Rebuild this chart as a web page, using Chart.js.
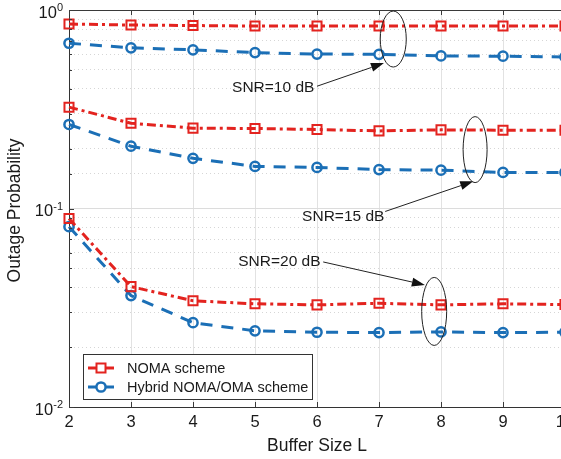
<!DOCTYPE html>
<html>
<head>
<meta charset="utf-8">
<script src="https://cdn.jsdelivr.net/npm/chart.js@4.4.0/dist/chart.umd.min.js"></script>
<style>
  html, body { margin: 0; padding: 0; overflow: hidden; background: #fff; }
  canvas { display: block; }
</style>
</head>
<body>
<canvas id="chart" width="600" height="459"></canvas>
<script>
// Buffer size L on the x axis
const bufferSizes = [2, 3, 4, 5, 6, 7, 8, 9, 10];

// Outage probability, NOMA scheme
const noma10 = [0.85, 0.84, 0.835, 0.83, 0.83, 0.83, 0.83, 0.83, 0.83];
const noma15 = [0.324, 0.269, 0.254, 0.253, 0.250, 0.246, 0.249, 0.248, 0.248];
const noma20 = [0.089, 0.0404, 0.0343, 0.0331, 0.0327, 0.0333, 0.0327, 0.0331, 0.0328];

// Outage probability, hybrid NOMA/OMA scheme
const hybrid10 = [0.68, 0.645, 0.63, 0.61, 0.60, 0.598, 0.587, 0.585, 0.58];
const hybrid15 = [0.265, 0.206, 0.179, 0.163, 0.161, 0.157, 0.156, 0.152, 0.152];
const hybrid20 = [0.081, 0.0364, 0.0266, 0.0242, 0.0238, 0.0237, 0.0239, 0.0237, 0.0238];

const yTicks = [0.01, 0.1, 1];
const yExponents = ['-2', '-1', '0'];
const legendLabels = ['NOMA scheme', 'Hybrid NOMA/OMA scheme'];
const snrLabels = ['SNR=10 dB', 'SNR=15 dB', 'SNR=20 dB'];

const RED = '#e3231f';
const BLUE = '#1b6fb6';
const FONT = '"Liberation Sans", Arial, Helvetica, sans-serif';

const nomaStyle = {
  borderColor: RED, borderWidth: 3, borderDash: [9, 4, 3, 4],
  pointStyle: 'rect', pointRadius: 6.4, pointBorderWidth: 2,
  pointBorderColor: RED, pointBackgroundColor: 'rgba(255,255,255,0)'
};
const hybridStyle = {
  borderColor: BLUE, borderWidth: 3, borderDash: [12, 9],
  pointStyle: 'circle', pointRadius: 4.6, pointBorderWidth: 2.5,
  pointBorderColor: BLUE, pointBackgroundColor: 'rgba(255,255,255,0)'
};

function series(values) {
  return bufferSizes.map((x, i) => ({ x: x, y: values[i] }));
}

function isDecade(v) {
  const l = Math.log10(v);
  return Math.abs(l - Math.round(l)) < 1e-6;
}

// annotations: ellipses, arrows and text, in data coordinates
const snrNotes = [
  { text: snrLabels[0], tx: 4.63, ty: 0.404, ax0: 6.0, ay0: 0.413, ax1: 7.08, ay1: 0.54,
    ex: 7.23, ey: 0.714, rx: 13, ry: 28 },
  { text: snrLabels[1], tx: 5.76, ty: 0.0911, ax0: 7.1, ay0: 0.0966, ax1: 8.52, ay1: 0.137,
    ex: 8.55, ey: 0.198, rx: 12, ry: 33 },
  { text: snrLabels[2], tx: 4.73, ty: 0.0538, ax0: 6.1, ay0: 0.0538, ax1: 7.74, ay1: 0.0412,
    ex: 7.89, ey: 0.0303, rx: 12.5, ry: 34 }
];

const decorPlugin = {
  id: 'decor',
  afterDatasetsDraw(chart) {
    const ctx = chart.ctx;
    const xs = chart.scales.x, ys = chart.scales.y;
    const area = chart.chartArea;
    ctx.save();

    // box top line and inward ticks
    ctx.strokeStyle = '#3a3a3a';
    ctx.lineWidth = 1;
    ctx.beginPath();
    ctx.moveTo(area.left, area.top + 0.5);
    ctx.lineTo(area.right, area.top + 0.5);
    ctx.stroke();
    ctx.beginPath();
    bufferSizes.forEach(v => {
      const px = Math.round(xs.getPixelForValue(v)) + 0.5;
      ctx.moveTo(px, area.bottom); ctx.lineTo(px, area.bottom - 5);
      ctx.moveTo(px, area.top); ctx.lineTo(px, area.top + 5);
    });
    ys.ticks.forEach(t => {
      const py = Math.round(ys.getPixelForValue(t.value)) + 0.5;
      const len = isDecade(t.value) ? 5 : 3;
      ctx.moveTo(area.left, py); ctx.lineTo(area.left + len, py);
    });
    ctx.stroke();

    // y tick labels 10^n
    ctx.fillStyle = '#1a1a1a';
    ctx.textAlign = 'right';
    ctx.textBaseline = 'middle';
    yTicks.forEach((v, i) => {
      const py = ys.getPixelForValue(v);
      ctx.font = '11px ' + FONT;
      const supW = ctx.measureText(yExponents[i]).width;
      ctx.fillText(yExponents[i], 63, py - 2);
      ctx.font = '16.5px ' + FONT;
      ctx.fillText('10', 63 - supW, py + 3);
    });

    // axis titles
    ctx.font = '17.5px ' + FONT;
    ctx.textAlign = 'center';
    ctx.fillText('Buffer Size L', (area.left + area.right) / 2, 446);
    ctx.save();
    ctx.translate(15, (area.top + area.bottom) / 2 + 2);
    ctx.rotate(-Math.PI / 2);
    ctx.fillText('Outage Probability', 0, 0);
    ctx.restore();

    // SNR annotations
    snrNotes.forEach(n => {
      const ex = xs.getPixelForValue(n.ex), ey = ys.getPixelForValue(n.ey);
      ctx.strokeStyle = '#222';
      ctx.lineWidth = 1;
      ctx.beginPath();
      ctx.ellipse(ex, ey, n.rx, n.ry, 0, 0, Math.PI * 2);
      ctx.stroke();

      const x0 = xs.getPixelForValue(n.ax0), y0 = ys.getPixelForValue(n.ay0);
      const x1 = xs.getPixelForValue(n.ax1), y1 = ys.getPixelForValue(n.ay1);
      const ang = Math.atan2(y1 - y0, x1 - x0);
      const hl = 13, hw = 4.5;
      ctx.beginPath();
      ctx.moveTo(x0, y0);
      ctx.lineTo(x1 - hl * Math.cos(ang), y1 - hl * Math.sin(ang));
      ctx.stroke();
      ctx.fillStyle = '#111';
      ctx.beginPath();
      ctx.moveTo(x1, y1);
      ctx.lineTo(x1 - hl * Math.cos(ang) + hw * Math.sin(ang), y1 - hl * Math.sin(ang) - hw * Math.cos(ang));
      ctx.lineTo(x1 - hl * Math.cos(ang) - hw * Math.sin(ang), y1 - hl * Math.sin(ang) + hw * Math.cos(ang));
      ctx.closePath();
      ctx.fill();

      ctx.fillStyle = '#1a1a1a';
      ctx.font = '15.5px ' + FONT;
      ctx.textAlign = 'left';
      ctx.textBaseline = 'middle';
      ctx.fillText(n.text, xs.getPixelForValue(n.tx), ys.getPixelForValue(n.ty));
    });

    // legend box
    const lx = 83, ly = 354, lw = 229, lh = 45;
    ctx.fillStyle = '#fff';
    ctx.fillRect(lx, ly, lw, lh);
    ctx.strokeStyle = '#333';
    ctx.lineWidth = 1;
    ctx.strokeRect(lx + 0.5, ly + 0.5, lw, lh);
    const styles = [nomaStyle, hybridStyle];
    styles.forEach((s, i) => {
      const cy = ly + 14 + i * 19;
      ctx.strokeStyle = s.borderColor;
      ctx.lineWidth = 3;
      ctx.setLineDash([]);
      ctx.beginPath();
      ctx.moveTo(88, cy); ctx.lineTo(114, cy);
      ctx.stroke();
      ctx.fillStyle = '#fff';
      ctx.lineWidth = s.pointBorderWidth;
      ctx.beginPath();
      if (s.pointStyle === 'rect') {
        ctx.rect(101 - 4.5, cy - 4.5, 9, 9);
      } else {
        ctx.arc(101, cy, s.pointRadius, 0, Math.PI * 2);
      }
      ctx.fill();
      ctx.stroke();
      ctx.fillStyle = '#1a1a1a';
      ctx.font = '14.5px ' + FONT;
      ctx.textAlign = 'left';
      ctx.textBaseline = 'middle';
      ctx.fillText(legendLabels[i], 127, cy + 1);
    });

    ctx.restore();
  }
};

new Chart(document.getElementById('chart'), {
  type: 'line',
  data: {
    datasets: [
      Object.assign({ label: 'NOMA 10 dB', data: series(noma10) }, nomaStyle),
      Object.assign({ label: 'Hybrid 10 dB', data: series(hybrid10) }, hybridStyle),
      Object.assign({ label: 'NOMA 15 dB', data: series(noma15) }, nomaStyle),
      Object.assign({ label: 'Hybrid 15 dB', data: series(hybrid15) }, hybridStyle),
      Object.assign({ label: 'NOMA 20 dB', data: series(noma20) }, nomaStyle),
      Object.assign({ label: 'Hybrid 20 dB', data: series(hybrid20) }, hybridStyle)
    ]
  },
  options: {
    responsive: false,
    animation: false,
    clip: false,
    layout: { padding: { left: 0, right: 35, top: 10, bottom: 0 } },
    plugins: { legend: { display: false }, tooltip: { enabled: false } },
    elements: { line: { tension: 0, fill: false } },
    scales: {
      x: {
        type: 'linear', min: 2, max: 10,
        afterFit(scale) { scale.height = 52; },
        ticks: { stepSize: 1, padding: 6, color: '#1a1a1a', font: { family: FONT, size: 16.5 } },
        grid: { color: '#e2e2e2', drawTicks: false },
        border: { color: '#333', width: 1 }
      },
      y: {
        type: 'logarithmic', min: 0.01, max: 1,
        afterFit(scale) { scale.width = 69; },
        ticks: { display: false },
        grid: {
          drawTicks: false,
          color: ctx => isDecade(ctx.tick.value) ? '#dcdcdc' : '#d6d6d6'
        },
        border: {
          color: '#333', width: 1,
          dash: ctx => (ctx.tick && !isDecade(ctx.tick.value)) ? [1, 3] : []
        }
      }
    }
  },
  plugins: [decorPlugin]
});
</script>
</body>
</html>
